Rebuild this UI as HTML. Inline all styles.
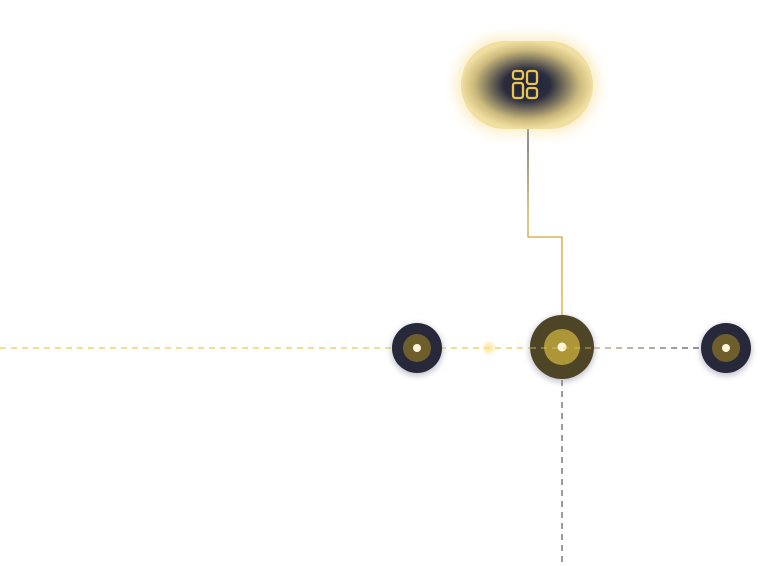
<!DOCTYPE html>
<html><head><style>html,body{margin:0;padding:0;background:#fff;width:768px;height:566px;overflow:hidden}</style></head>
<body>
<svg width="768" height="566" viewBox="0 0 768 566" xmlns="http://www.w3.org/2000/svg">
<defs>
<radialGradient id="pill" cx="50%" cy="50%" r="50%">
<stop offset="0" stop-color="#1f2238"/>
<stop offset="0.35" stop-color="#2a2c3e"/>
<stop offset="0.8" stop-color="#cdbb7e"/>
<stop offset="1" stop-color="#f0dfa0"/>
</radialGradient>
<linearGradient id="hl" gradientUnits="userSpaceOnUse" x1="0" y1="0" x2="705" y2="0">
<stop offset="0" stop-color="#f2c94c"/>
<stop offset="0.8" stop-color="#e8c860"/>
<stop offset="0.9" stop-color="#8a8470"/>
<stop offset="1" stop-color="#4a4a58"/>
</linearGradient>
<linearGradient id="vl" gradientUnits="userSpaceOnUse" x1="0" y1="129" x2="0" y2="316">
<stop offset="0" stop-color="#3a3d55"/>
<stop offset="0.45" stop-color="#c9a840"/>
<stop offset="1" stop-color="#d9b030"/>
</linearGradient>
<filter id="blur" x="-50%" y="-50%" width="200%" height="200%"><feGaussianBlur stdDeviation="6"/></filter>
<filter id="sh" x="-50%" y="-50%" width="200%" height="200%"><feGaussianBlur stdDeviation="3"/></filter>
<radialGradient id="glow"><stop offset="0" stop-color="#fbe08a"/><stop offset="1" stop-color="#fbe08a" stop-opacity="0"/></radialGradient>
</defs>
<line x1="0" y1="348" x2="705" y2="348" stroke="url(#hl)" stroke-width="1.2" stroke-dasharray="6 5"/>
<line x1="562" y1="380" x2="562" y2="566" stroke="#55566a" stroke-width="1.2" stroke-dasharray="6 5"/>
<path d="M528 129 V237 H562 V316" fill="none" stroke="url(#vl)" stroke-width="1.3"/>
<rect x="455" y="36" width="144" height="98" rx="49" fill="#f5dc8a" opacity="0.45" filter="url(#blur)"/>
<rect x="461" y="41" width="132" height="88" rx="44" fill="url(#pill)"/>
<g fill="none" stroke="#e8c450" stroke-width="2.3">
<rect x="513" y="71" width="10" height="8" rx="2.5"/>
<rect x="527" y="71" width="10" height="13" rx="2.5"/>
<rect x="513" y="83" width="10" height="15" rx="2.5"/>
<rect x="527" y="88" width="10" height="10" rx="2.5"/>
</g>
<circle cx="489" cy="348" r="8" fill="url(#glow)"/>
<circle cx="417" cy="350" r="26" fill="#8a8aa0" opacity="0.5" filter="url(#sh)"/>
<circle cx="417" cy="348" r="25" fill="#27283a"/>
<circle cx="417" cy="348" r="14" fill="#6e5e2c"/>
<circle cx="417" cy="348" r="4" fill="#fff6dc"/>
<circle cx="562" cy="349" r="33" fill="#8a8aa0" opacity="0.5" filter="url(#sh)"/>
<circle cx="562" cy="347" r="32" fill="#4e4527"/>
<circle cx="562" cy="347" r="18" fill="#ad9638"/>
<circle cx="562" cy="347" r="4.5" fill="#fff6dc"/>
<line x1="530" y1="348" x2="594" y2="348" stroke="#e8c860" stroke-width="1.2" stroke-dasharray="6 5" opacity="0.6"/>
<circle cx="726" cy="350" r="26" fill="#8a8aa0" opacity="0.5" filter="url(#sh)"/>
<circle cx="726" cy="348" r="25" fill="#27283a"/>
<circle cx="726" cy="348" r="14" fill="#6e5e2c"/>
<circle cx="726" cy="348" r="4" fill="#fff6dc"/>
</svg>
</body></html>
